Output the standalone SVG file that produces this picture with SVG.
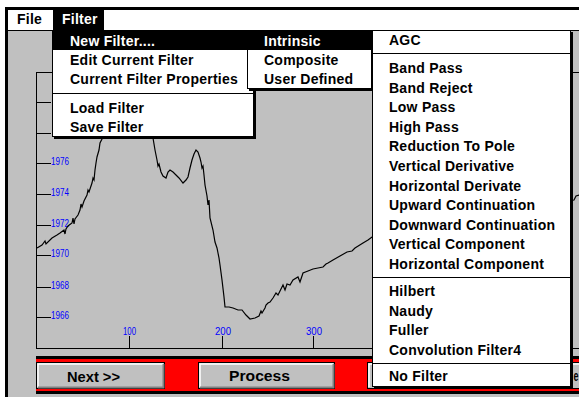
<svg xmlns="http://www.w3.org/2000/svg" width="579" height="397" viewBox="0 0 579 397">
<style>
.m{font-family:"Liberation Sans",Arial,sans-serif;font-size:14px;font-weight:bold;letter-spacing:0.25px;fill:#000}
.w{fill:#fff}
.ax{font-family:"Liberation Sans",Arial,sans-serif;font-size:10px;fill:#0000ff}
.bt{font-family:"Liberation Sans",Arial,sans-serif;font-size:14px;font-weight:bold;fill:#000}
.ln{stroke:#000;stroke-width:1;fill:none}
.menu{fill:#fff;stroke:#000;stroke-width:1}
.btn{fill:#c0c0c0;stroke:#000;stroke-width:1}
.hl{stroke:#fff;stroke-width:1.5;fill:none}
.sh{stroke:#808080;stroke-width:2;fill:none}
</style>
<rect x="0" y="0" width="579" height="397" fill="#fff"/>
<g id="window">
<rect x="8" y="31" width="571" height="366" fill="#c0c0c0"/>
<rect x="8" y="10" width="571" height="20" fill="#fff"/>
<rect x="5" y="7" width="574" height="3" fill="#000"/>
<rect x="5" y="7" width="3" height="390" fill="#000"/>
<line x1="8" y1="30.5" x2="579" y2="30.5" class="ln"/>
</g>
<g id="menubar">
<text x="17" y="24" class="m">File</text>
<rect x="53" y="10" width="51" height="20" fill="#000"/>
<text x="62" y="24" class="m w">Filter</text>
</g>
<g id="chart">
<line x1="36.5" y1="72" x2="36.5" y2="348" class="ln"/>
<line x1="36" y1="72.5" x2="579" y2="72.5" class="ln"/>
<line x1="36" y1="348.5" x2="579" y2="348.5" class="ln"/>
<g class="ln">
<line x1="36" y1="102.5" x2="51" y2="102.5"/>
<line x1="36" y1="133.5" x2="51" y2="133.5"/>
<line x1="36" y1="163.5" x2="51" y2="163.5"/>
<line x1="36" y1="194.5" x2="51" y2="194.5"/>
<line x1="36" y1="225.5" x2="51" y2="225.5"/>
<line x1="36" y1="255.5" x2="51" y2="255.5"/>
<line x1="36" y1="287.5" x2="51" y2="287.5"/>
<line x1="36" y1="317.5" x2="51" y2="317.5"/>
<line x1="129.5" y1="336" x2="129.5" y2="348"/>
<line x1="222.5" y1="336" x2="222.5" y2="348"/>
<line x1="313.5" y1="336" x2="313.5" y2="348"/>
</g>
<text x="51" y="165" class="ax" textLength="18" lengthAdjust="spacingAndGlyphs">1976</text>
<text x="51" y="196" class="ax" textLength="18" lengthAdjust="spacingAndGlyphs">1974</text>
<text x="51" y="227" class="ax" textLength="18" lengthAdjust="spacingAndGlyphs">1972</text>
<text x="51" y="257" class="ax" textLength="18" lengthAdjust="spacingAndGlyphs">1970</text>
<text x="51" y="289" class="ax" textLength="18" lengthAdjust="spacingAndGlyphs">1968</text>
<text x="51" y="319" class="ax" textLength="18" lengthAdjust="spacingAndGlyphs">1966</text>
<text x="123" y="335" class="ax" textLength="13" lengthAdjust="spacingAndGlyphs">100</text>
<text x="215" y="335" class="ax" textLength="16" lengthAdjust="spacingAndGlyphs">200</text>
<text x="306" y="335" class="ax" textLength="16" lengthAdjust="spacingAndGlyphs">300</text>
<polyline fill="none" stroke="#000" stroke-width="1.2" points="37,248 42,245 45,241 46,244 52,238 57,235 60,233 64,230 65,234 66,229 68,226 72,223 73,218 74,224 75,219 78,215 80,210 81,204 82,207 84,201 87,195 88,190 89,192 92,183 93,178 94,180 95,170 96,163 97,157 99,150 100,143 103,137 110,110 120,80 130,75 140,90 150,120 153,138 155,150 157,160 158,166 159,164 161,172 163,176 166,178 168,172 170,170 173,172 176,175 179,178 183,183 186,180 188,177 190,168 192,160 194,154 196,150 198,152 200,158 201,162 202,168 203,166 204,175 205,185 207,196 208,205 209,200 210,218 213,230 215,242 217,248 218,253 219,258 220,265 222,280 224,297 225,307 229,307 233,308 238,310 242,310 246,315 250,319 255,318 259,316 261,311 262,313 265,308 266,305 268,303 270,302 273,298 276,293 278,295 281,289 283,285 285,290 287,284 290,285 293,280 298,277 300,282 303,273 308,271 313,269 318,268 323,267 326,264 328,263 333,260 340,256 347,252 352,251 355,248 363,243 368,240 372,237 470,218 574,200 576,196 579,195"/>
</g>
<g id="bottom-panel">
<rect x="36" y="356" width="543" height="3" fill="#000"/>
<rect x="36" y="359" width="543" height="32" fill="#ff0000"/>
<rect x="36" y="391" width="543" height="3" fill="#000"/>
</g>
<g id="btn-next">
<rect x="36.5" y="362.5" width="128" height="26" class="btn"/>
<polyline points="38,387 38,364 163,364" class="hl"/>
<polyline points="38,387.5 163.5,387.5 163.5,364" class="sh"/>
<text x="67" y="382" class="bt" textLength="53" lengthAdjust="spacingAndGlyphs">Next &gt;&gt;</text>
</g>
<g id="btn-process">
<rect x="198.5" y="362.5" width="136" height="26" class="btn"/>
<polyline points="200,387 200,364 333,364" class="hl"/>
<polyline points="200,387.5 333.5,387.5 333.5,364" class="sh"/>
<text x="229" y="381" class="bt" textLength="61" lengthAdjust="spacingAndGlyphs">Process</text>
</g>
<g id="btn-third">
<rect x="367.5" y="362.5" width="240" height="26" class="btn"/>
<polyline points="369,387 369,364 606,364" class="hl"/>
<text x="573.5" y="381" class="bt" textLength="5" lengthAdjust="spacingAndGlyphs">e</text>
</g>
<g id="filter-menu">
<rect x="54" y="32" width="202" height="107" fill="#000"/>
<rect x="52.5" y="30.5" width="201" height="106" class="menu"/>
<rect x="53" y="31" width="200" height="19" fill="#000"/>
<text x="70" y="46" class="m w">New Filter....</text>
<text x="70" y="65" class="m">Edit Current Filter</text>
<text x="70" y="84" class="m">Current Filter Properties</text>
<line x1="52" y1="93.5" x2="254" y2="93.5" class="ln"/>
<text x="70" y="113" class="m">Load Filter</text>
<text x="70" y="132" class="m">Save Filter</text>
</g>
<g id="new-filter-submenu">
<rect x="249" y="32" width="125" height="59" fill="#000"/>
<rect x="247.5" y="30.5" width="124" height="58" class="menu"/>
<rect x="248" y="31" width="124" height="19" fill="#000"/>
<text x="264" y="46" class="m w">Intrinsic</text>
<text x="264" y="65" class="m">Composite</text>
<text x="264" y="84" class="m">User Defined</text>
</g>
<g id="intrinsic-submenu">
<rect x="374" y="32" width="199" height="356" fill="#000"/>
<rect x="372.5" y="30.5" width="198" height="356" class="menu"/>
<text x="389" y="45" class="m">AGC</text>
<line x1="372" y1="53.5" x2="571" y2="53.5" class="ln"/>
<text x="389" y="73" class="m">Band Pass</text>
<text x="389" y="92.6" class="m">Band Reject</text>
<text x="389" y="112.2" class="m">Low Pass</text>
<text x="389" y="131.8" class="m">High Pass</text>
<text x="389" y="151.4" class="m">Reduction To Pole</text>
<text x="389" y="171" class="m">Vertical Derivative</text>
<text x="389" y="190.6" class="m">Horizontal Derivate</text>
<text x="389" y="210.2" class="m">Upward Continuation</text>
<text x="389" y="229.8" class="m">Downward Continuation</text>
<text x="389" y="249.4" class="m">Vertical Component</text>
<text x="389" y="269" class="m">Horizontal Component</text>
<line x1="372" y1="277.5" x2="571" y2="277.5" class="ln"/>
<text x="389" y="296" class="m">Hilbert</text>
<text x="389" y="315.5" class="m">Naudy</text>
<text x="389" y="335" class="m">Fuller</text>
<text x="389" y="354.5" class="m">Convolution Filter4</text>
<line x1="372" y1="363.5" x2="571" y2="363.5" class="ln"/>
<text x="389" y="381" class="m">No Filter</text>
</g>
</svg>
